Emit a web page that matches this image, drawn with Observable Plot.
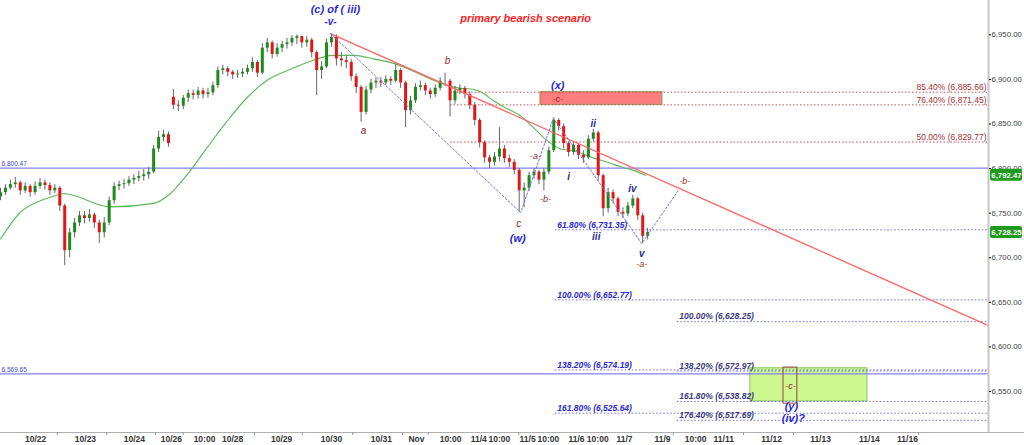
<!DOCTYPE html>
<html><head><meta charset="utf-8">
<script src="https://cdn.jsdelivr.net/npm/d3@7"></script>
<script src="https://cdn.jsdelivr.net/npm/@observablehq/plot@0.6"></script>
<style>body{margin:0;background:#fff}#chart svg{display:block}</style>
</head><body><div id="chart"></div>
<script>
// ---- Candles (bar index, OHLC) ----
const closes = [6773,6778,6782,6784,6775,6780,6773,6780,6784,6781,
6775,6778,6758,6708,6728,6739,6747,6744,6748,6739,
6728,6739,6764,6780,6782,6783,6787,6789,6791,6793,
6796,6822,6835,6838,6828,6871,6870,6879,6884,6882,
6887,6883,6885,6893,6910,6912,6908,6905,6906,6908,
6912,6919,6907,6935,6941,6928,6935,6939,6941,6946,
6948,6941,6944,6930,6910,6914,6941,6947,6923,6921,
6919,6903,6891,6863,6888,6896,6898,6896,6900,6898,
6910,6896,6865,6876,6891,6893,6887,6883,6890,6898,
6898,6876,6887,6890,6883,6871,6854,6829,6812,6807,
6813,6822,6811,6807,6798,6775,6778,6792,6796,6787,
6796,6820,6854,6847,6828,6818,6826,6815,6812,6833,
6840,6792,6755,6773,6766,6751,6749,6758,6766,6747,
6724,6728.25];
const highs = [6778,6782,6787,6790,6786,6784,6782,6785,6789,6787,
6784,6782,6780,6760,6733,6744,6752,6752,6754,6750,
6742,6745,6768,6784,6786,6788,6791,6793,6797,6799,
6801,6826,6842,6843,6841,6889,6876,6882,6888,6888,
6891,6890,6890,6897,6914,6916,6914,6910,6910,6912,
6916,6924,6921,6940,6946,6943,6940,6943,6946,6949,
6950,6948,6948,6946,6932,6920,6945,6951,6950,6930,
6926,6922,6906,6893,6892,6900,6902,6902,6904,6903,
6917,6912,6898,6881,6895,6898,6896,6890,6894,6902,
6907,6900,6892,6894,6892,6886,6874,6856,6831,6815,
6818,6846,6826,6815,6810,6800,6784,6796,6800,6798,
6800,6824,6857,6856,6850,6830,6830,6828,6820,6837,
6844,6842,6794,6778,6776,6768,6756,6762,6770,6768,
6750,6733];
const lows = [6764,6770,6776,6778,6770,6772,6768,6770,6777,6776,
6770,6772,6752,6691,6700,6722,6735,6738,6740,6733,
6716,6722,6736,6760,6775,6777,6780,6782,6785,6786,
6788,6794,6818,6830,6824,6866,6864,6866,6874,6877,
6878,6878,6879,6882,6890,6905,6903,6900,6901,6902,
6905,6908,6902,6905,6930,6923,6925,6930,6934,6937,
6939,6935,6936,6924,6882,6900,6912,6936,6915,6914,
6912,6898,6884,6852,6860,6884,6890,6891,6893,6893,
6896,6890,6846,6860,6873,6887,6882,6878,6880,6887,
6892,6858,6872,6883,6878,6866,6848,6823,6806,6800,
6803,6808,6806,6801,6793,6751,6756,6775,6788,6782,
6775,6793,6818,6842,6822,6813,6815,6810,6806,6810,
6830,6786,6746,6750,6761,6746,6744,6746,6755,6742,
6716,6720];
// session opens (first bar of each session); other opens = previous close
const sessionOpens = [[0, 6768], [35, 6880]];

// ---- Moving average ----
const maX = [0,4.05,8.1,10.7,12.75,22.3,31,34.4,37.9,41.9,46,50,54,58.1,62.1,67.4,71.5,75.5,79.6,82.4,85.6,89.1,93.1,95.7,97.6,99.8,102.6,105.3,107.9,110.7,113.4,116,120,122.9,126.1,128.1,130.6];
const maV = [6721,6751,6764,6769,6772,6757,6761,6772,6794,6824,6854,6880,6899,6910,6919,6927,6927,6923,6918,6912,6904,6896,6890,6889,6885,6876,6867,6859,6846,6831,6822,6820,6812,6807,6801,6798,6792.47];

// ---- Axes ----
const xTickPos = [7.1,17.2,27.1,34.6,41.3,47,56.9,67,77.1,84.2,91.1,96.8,101,106.7,110.9,116.6,120.9,126.3,134,140.7,146.4,156.1,166,175.9,183.6];
const xTickLabels = ["10/22","10/23","10/24","10/26","10:00","10/28","10/29","10/30","10/31","Nov","10:00","11/4","10:00","11/5","10:00","11/6","10:00","11/7","11/9","10:00","11/11","11/12","11/13","11/14","11/16"];
const xSeparators = [11.5,21.5,31.4,37,51.4,61.1,71.3,81.4,86.6,104.9,136.2,150.4,160.5,185.8];
const yTicks = [6550,6600,6650,6700,6750,6800,6850,6900,6950];

// ---- Levels ----
const solidLevels = [6800.47, 6569.65];
const redFibPct = ["85.40%","76.40%","50.00%"];
const redFibVal = [6885.66, 6871.45, 6829.77];
const blueFibAPct = ["61.80%","100.00%","138.20%","161.80%"];
const blueFibAVal = [6731.35, 6652.77, 6574.19, 6525.64];
const blueFibBPct = ["100.00%","138.20%","161.80%","176.40%"];
const blueFibBVal = [6628.25, 6572.97, 6538.82, 6517.69];
const lastMA = 6792.47;
const lastClose = 6728.25;

// ---- Wave path (dotted) and trendline ----
const waveX = [66.8, 105.3, 111.9, 118.4, 129.8, 137.2];
const waveV = [6951.4, 6750.6, 6856.1, 6806.7, 6715.9, 6775.3];
const trendX = [66.8, 200];
const trendV = [6951.4, 6623.9];

// ---- Target zones ----
const zoneX1 = [109.3, 151.8, 158.5];
const zoneX2 = [134, 175.5, 161.3];
const zoneLo = [6871.45, 6538.82, 6536.4];
const zoneHi = [6885.66, 6576, 6576.8];
const zoneKind = ["red", "green", "outline"];

// ---- Wave labels ----
const labelText = ["(c) of ( iii)","-v-","primary bearish scenario","a","b","c","(w)","(x)","-c-","-a-","-b-","i","ii","iii","iv","v","-a-","-b-","-c-","(y)","(iv)?"];
const labelX = [67.8,66.8,106.3,73.5,90.5,104.9,104.7,112.8,112.8,108.3,110.3,115,120,120.6,127.9,129.8,129.8,138.5,159.9,160.1,160.5];
const labelV = [6978.3,6964.9,6968.3,6842.6,6921.1,6738.3,6721.5,6893.1,6877.4,6813.5,6766.3,6791,6850.5,6723.7,6777.6,6704.7,6692.3,6785.4,6555.5,6533,6519.6];
const labelKind = ["major","majorS","title","minor","minor","minor","major","major","minorS","minorS","minorS","sub","sub","sub","sub","sub","minorS","minorS","minorS","major","major"];

// ---------- build ----------
const fmt = d3.format(",.2f");
const candles = closes.map((c, i) => {
  const so = sessionOpens.find(s => s[0] === i);
  const o = so ? so[1] : closes[i - 1];
  return {i, o, h: highs[i], l: lows[i], c};
});
const ma = maX.map((x, k) => ({x, v: maV[k]}));
const wave = waveX.map((x, k) => ({x, v: waveV[k]}));
const trend = trendX.map((x, k) => ({x, v: trendV[k]}));
const zones = zoneKind.map((k, j) => ({k, x1: zoneX1[j], x2: zoneX2[j], lo: zoneLo[j], hi: zoneHi[j]}));
const redFib = redFibVal.map((v, j) => ({v, t: `${redFibPct[j]} (${fmt(v)})`}));
const blueA = blueFibAVal.map((v, j) => ({v, t: `${blueFibAPct[j]} (${fmt(v)})`}));
const blueB = blueFibBVal.map((v, j) => ({v, t: `${blueFibBPct[j]} (${fmt(v)})`}));
const labels = labelText.map((t, j) => ({t, x: labelX[j], v: labelV[j], k: labelKind[j]}));
const tickMap = new Map(xTickPos.map((p, j) => [p, xTickLabels[j]]));

const X_MAX = 200, Y_MIN = 6504, Y_MAX = 6988.5;
const RED_START = 91.1, BLUE_A_START = 112.3, BLUE_B_START = 137.0;

const kindStyle = {
  major: {fill: "#2727e0", fontSize: 11, fontWeight: "bold"},
  majorS: {fill: "#2727e0", fontSize: 10, fontWeight: "bold"},
  title: {fill: "#ff2222", fontSize: 11, fontWeight: "bold"},
  minor: {fill: "#9c2424", fontSize: 10, fontWeight: "normal"},
  minorS: {fill: "#9c2424", fontSize: 9, fontWeight: "normal"},
  sub: {fill: "#2b2b8c", fontSize: 10, fontWeight: "bold"}
};
const labelMarks = Object.entries(kindStyle).map(([k, s]) =>
  Plot.text(labels.filter(d => d.k === k), {x: "x", y: "v", text: "t", fill: s.fill, fontSize: s.fontSize, fontWeight: s.fontWeight, fontStyle: "italic"}));

const dot = "1.5,2";
const plot = Plot.plot({
  width: 1024, height: 445,
  marginLeft: 0, marginRight: 36, marginTop: 0, marginBottom: 13,
  style: {fontFamily: "'Liberation Sans', Arial, sans-serif", background: "#fff"},
  x: {domain: [0, X_MAX], axis: null},
  y: {domain: [Y_MIN, Y_MAX], axis: null},
  marks: [
    // zones
    Plot.rect(zones.filter(d => d.k === "red"), {x1: "x1", x2: "x2", y1: "lo", y2: "hi", fill: "#ff7d7d", stroke: "#8f9a60", strokeWidth: 1}),
    Plot.rect(zones.filter(d => d.k === "green"), {x1: "x1", x2: "x2", y1: "lo", y2: "hi", fill: "#cdf78f", stroke: "#8cc45e", strokeWidth: 1}),
    // solid levels
    Plot.ruleY(solidLevels, {stroke: "#8282f2", strokeWidth: 1.3}),
    Plot.text(solidLevels, {x: 0, y: d => d, text: d => fmt(d), textAnchor: "start", dx: 1, dy: -4, fontSize: 6.5, fill: "#4545d5"}),
    // fib levels
    Plot.ruleY(redFib, {y: "v", x1: RED_START, x2: X_MAX, stroke: "#cf4b4b", strokeDasharray: dot}),
    Plot.text(redFib, {x: X_MAX, y: "v", text: "t", textAnchor: "end", dx: -2, dy: -5, fontSize: 8.5, fill: "#a33030"}),
    Plot.ruleY(blueA, {y: "v", x1: BLUE_A_START, x2: X_MAX, stroke: "#6b6bd8", strokeDasharray: dot}),
    Plot.text(blueA, {x: BLUE_A_START, y: "v", text: "t", textAnchor: "start", dx: 2, dy: -5, fontSize: 8.5, fill: "#2a2ad2", fontStyle: "italic", fontWeight: "bold"}),
    Plot.ruleY(blueB, {y: "v", x1: BLUE_B_START, x2: X_MAX, stroke: "#6b6bd8", strokeDasharray: dot}),
    Plot.text(blueB, {x: BLUE_B_START, y: "v", text: "t", textAnchor: "start", dx: 2, dy: -5, fontSize: 8.5, fill: "#3a3a7e", fontStyle: "italic", fontWeight: "bold"}),
    // moving average
    Plot.line(ma, {x: "x", y: "v", stroke: "#5cb85c", strokeWidth: 1.1, curve: "monotone-x"}),
    // candles
    Plot.ruleX(candles, {x: "i", y1: "l", y2: "h", stroke: "#666", strokeWidth: 1}),
    Plot.ruleX(candles, {x: "i", y1: "o", y2: "c", stroke: d => d.c >= d.o ? "#1d8a1d" : "#e61414", strokeWidth: 3}),
    // trendline and wave path
    Plot.line(trend, {x: "x", y: "v", stroke: "#ff6464", strokeWidth: 1.3}),
    Plot.line(wave, {x: "x", y: "v", stroke: "#7272e6", strokeWidth: 1, strokeDasharray: "2,2"}),
    Plot.rect(zones.filter(d => d.k === "outline"), {x1: "x1", x2: "x2", y1: "lo", y2: "hi", fill: "none", stroke: "#a04040", strokeWidth: 1}),
    ...labelMarks,
    // frame
    Plot.ruleX([X_MAX], {stroke: "#c6c6c6", strokeWidth: 2}),
    Plot.ruleY([Y_MIN], {stroke: "#b0b0b0", insetRight: -36}),
    // axes
    Plot.axisX({ticks: xTickPos, tickFormat: d => tickMap.get(d), tickSize: 0, tickPadding: 3, fontSize: 8.5, fontWeight: "bold", fill: "#333"}),
    Plot.axisX({ticks: xSeparators, tickFormat: () => "", tickSize: 3, stroke: "#999"}),
    Plot.axisY({anchor: "right", ticks: yTicks, tickFormat: fmt, tickSize: 2, tickPadding: 1, fontSize: 7.8, fill: "#444"}),
    // last-value badges
    Plot.rect([lastMA, lastClose], {x1: X_MAX, x2: X_MAX, y1: d => d, y2: d => d, insetLeft: 2, insetRight: -34, insetTop: -6, insetBottom: -6, fill: "#1f9a1f", rx: 2}),
    Plot.text([lastMA, lastClose], {x: X_MAX, y: d => d, text: d => fmt(d), dx: 18, fill: "#fff", fontWeight: "bold", fontSize: 7.8})
  ]
});
document.getElementById("chart").appendChild(plot);
</script>
</body></html>
